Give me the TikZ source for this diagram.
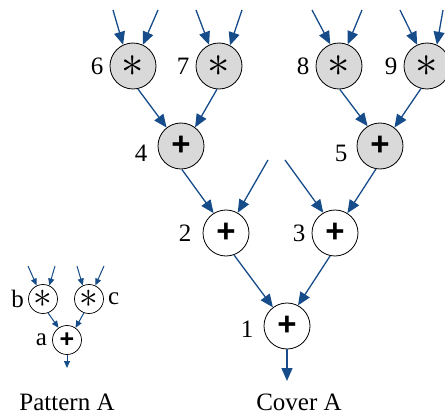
\documentclass[tikz,border=0pt]{standalone}
\usepackage{fontspec}
\setmainfont{Liberation Serif}
\setsansfont{Liberation Sans}
\usetikzlibrary{arrows.meta}
\definecolor{flowblue}{RGB}{22,76,138}
\definecolor{opgray}{RGB}{217,217,217}
\newcommand{\mulsym}[1]{\scalebox{#1}{$\ast$}}
\begin{document}
\begin{tikzpicture}[x=1pt, y=-1pt,
  addop/.style={circle, draw, line width=0.8pt, minimum size=46pt, inner sep=0pt, font=\sffamily\bfseries\fontsize{33}{33}\selectfont},
  mulop/.style={addop, fill=opgray},
  padd/.style={circle, draw, line width=0.7pt, minimum size=29pt, inner sep=0pt, font=\sffamily\bfseries\fontsize{25}{25}\selectfont},
  lbl/.style={font=\fontsize{25}{25}\selectfont, inner sep=0pt},
  label distance=6pt,
  flow/.style={draw=flowblue, line width=1.3pt, -{Triangle[length=13pt, width=11pt]}},
  sflow/.style={draw=flowblue, line width=1pt, -{Triangle[length=7pt, width=6pt]}},
  caption/.style={font=\fontsize{25}{25}\selectfont, inner sep=0pt},
]
  \useasboundingbox (0,0) rectangle (445,417);

  % cover A
  \node[mulop, label={[lbl]left:6}] (N6) at (133,66) {\mulsym{1.8}};
  \node[mulop, label={[lbl]left:7}] (N7) at (219,66) {\mulsym{1.8}};
  \node[mulop, label={[lbl]left:8}] (N8) at (339,66) {\mulsym{1.8}};
  \node[mulop, label={[lbl]left:9}] (N9) at (427,66) {\mulsym{1.8}};
  \node[mulop, label={[lbl, label distance=10pt, yshift=-7pt]left:4}] (N4) at (181,146) {+};
  \node[mulop, label={[lbl, label distance=9pt, yshift=-7pt]left:5}] (N5) at (380,146) {+};
  \node[addop, label={[lbl, label distance=11pt]left:2}] (N2) at (226,233) {+};
  \node[addop, label={[lbl]left:3}] (N3) at (335,233) {+};
  \node[addop, label={[lbl, label distance=10pt, yshift=-3pt]left:1}] (N1) at (287,326) {+};

  \coordinate (s6a) at (113,10);
  \coordinate (s6b) at (158,10);
  \coordinate (s7a) at (196,10);
  \coordinate (s7b) at (242,10);
  \coordinate (s8a) at (312,10);
  \coordinate (s8b) at (362,10);
  \coordinate (s9a) at (400,10);
  \coordinate (s9b) at (443,10);
  \coordinate (s2) at (268,160);
  \coordinate (s3) at (285,160);
  \coordinate (out1) at (287,381);

  \draw[flow] (s6a) -- (N6.115);
  \draw[flow] (s6b) -- (N6.65);
  \draw[flow] (s7a) -- (N7.115);
  \draw[flow] (s7b) -- (N7.62);
  \draw[flow] (s8a) -- (N8.112);
  \draw[flow] (s8b) -- (N8.68);
  \draw[flow] (s9a) -- (N9.115);
  \draw[flow] (s9b) -- (N9.65);
  \draw[flow] (N6.-78) -- (N4.128);
  \draw[flow] (N7.-95) -- (N4.53);
  \draw[flow] (N8.-88) -- (N5.122);
  \draw[flow] (N9.-105) -- (N5.52);
  \draw[flow] (N4.-88) -- (N2.122);
  \draw[flow] (s2) -- (N2.60);
  \draw[flow] (s3) -- (N3.120);
  \draw[flow] (N5.-100) -- (N3.58);
  \draw[flow] (N2.-70) -- (N1.127);
  \draw[flow] (N3.-102) -- (N1.62);
  \draw[flow] (N1.south) -- (out1);
  \node[caption] (capB) at (299,402) {Cover A};

  % pattern A
  \node[padd, label={[lbl, label distance=4pt]left:b}] (Pb) at (43,299) {\mulsym{1.5}};
  \node[padd, label={[lbl, label distance=4pt]right:c}] (Pc) at (89,299) {\mulsym{1.5}};
  \node[padd, label={[lbl, label distance=5pt]left:a}] (Pa) at (67,340) {+};
  \coordinate (sba) at (28,266);
  \coordinate (sbb) at (55,266);
  \coordinate (sca) at (77,266);
  \coordinate (scb) at (104,266);
  \coordinate (outa) at (67,368);
  \draw[sflow] (sba) -- (Pb.115);
  \draw[sflow] (sbb) -- (Pb.65);
  \draw[sflow] (sca) -- (Pc.115);
  \draw[sflow] (scb) -- (Pc.65);
  \draw[sflow] (Pb.-70) -- (Pa.125);
  \draw[sflow] (Pc.-110) -- (Pa.55);
  \draw[sflow] (Pa.south) -- (outa);
  \node[caption] (capA) at (67,402) {Pattern A};
\end{tikzpicture}
\end{document}
